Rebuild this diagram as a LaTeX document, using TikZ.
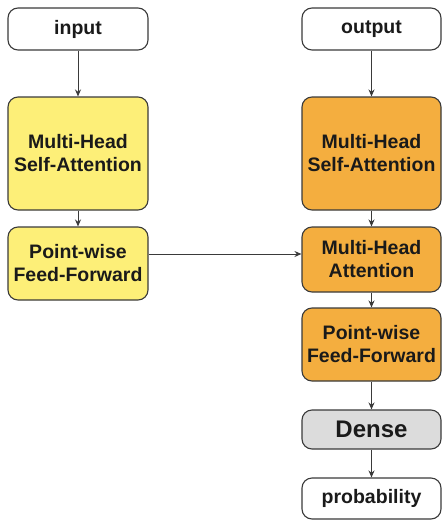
\documentclass[tikz,border=0pt]{standalone}
\usepackage{fontspec}
\setmainfont{Liberation Sans}
\usetikzlibrary{arrows.meta}
\definecolor{boxline}{HTML}{3A3A3A}
\definecolor{yel}{HTML}{FDEF78}
\definecolor{org}{HTML}{F4AE3F}
\definecolor{gry}{HTML}{DCDCDC}
\definecolor{txt}{HTML}{1A1A1A}
\tikzset{
  blk/.style={draw=boxline, line width=1.1pt, rounded corners=10pt, align=center, text=txt,
    font=\bfseries\fontsize{19.5}{23}\selectfont, inner sep=0pt},
  arr/.style={draw=boxline, line width=1pt, -{Stealth[length=7pt,width=6pt]}}
}
\begin{document}
\begin{tikzpicture}[x=1pt,y=-1pt]
\useasboundingbox (0,0) rectangle (442,520);
% left column
\node[blk, fill=white, minimum width=140pt, minimum height=42pt] (in) at (78,29) {input};
\node[blk, fill=yel, minimum width=140pt, minimum height=113pt] (lmhsa) at (78,153.5) {Multi-Head\\Self-Attention};
\node[blk, fill=yel, minimum width=140pt, minimum height=73pt] (lpw) at (78,263.5) {Point-wise\\Feed-Forward};
% right column
\node[blk, fill=white, minimum width=139pt, minimum height=42pt] (out) at (371.5,29) {output};
\node[blk, fill=org, minimum width=139pt, minimum height=113pt] (rmhsa) at (371.5,153.5) {Multi-Head\\Self-Attention};
\node[blk, fill=org, minimum width=139pt, minimum height=65pt] (rmha) at (371.5,259.5) {Multi-Head\\Attention};
\node[blk, fill=org, minimum width=139pt, minimum height=73pt] (rpw) at (371.5,344.5) {Point-wise\\Feed-Forward};
\node[blk, fill=gry, minimum width=139pt, minimum height=39pt, font=\bfseries\fontsize{24}{27}\selectfont] (dense) at (371.5,429.5) {Dense};
\node[blk, fill=white, minimum width=139pt, minimum height=41pt] (prob) at (371.5,498.5) {probability};
% arrows
\draw[arr] (in) -- (lmhsa);
\draw[arr] (lmhsa) -- (lpw);
\draw[arr] (out) -- (rmhsa);
\draw[arr] (rmhsa) -- (rmha);
\draw[arr] (rmha) -- (rpw);
\draw[arr] (rpw) -- (dense);
\draw[arr] (dense) -- (prob);
\draw[arr] (lpw.east |- 0,254) -- (rmha.west |- 0,254);
\end{tikzpicture}
\end{document}
